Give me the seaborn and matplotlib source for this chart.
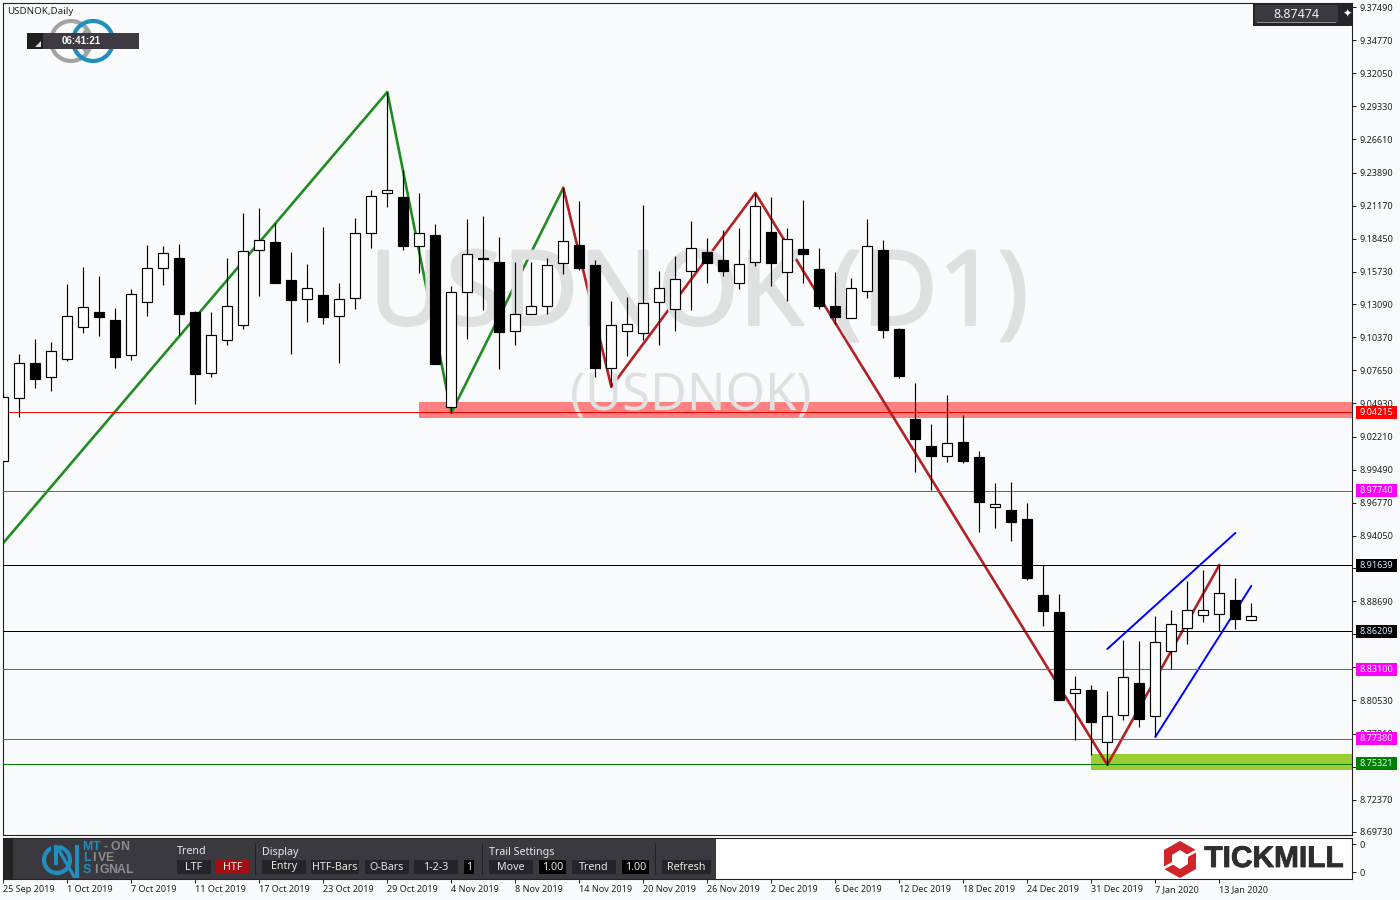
import numpy as np
import pandas as pd
import matplotlib
matplotlib.use('Agg')
import matplotlib.pyplot as plt
import matplotlib.transforms as mtransforms
import matplotlib.patheffects as pe
from matplotlib.patches import Rectangle, Polygon, Circle
import seaborn as sns

# daily USDNOK candles
opens = [9.0022,9.0539,9.0826,9.0711,9.0859,9.1121,9.1244,9.1179,9.0892,9.1326,
         9.1606,9.1688,9.1244,9.0744,9.1015,9.1138,9.1753,9.1819,9.1508,9.1351,
         9.1385,9.1212,9.1359,9.1893,9.2221,9.2188,9.1786,9.1876,9.0465,9.1410,
         9.1688,9.1655,9.1089,9.1228,9.1293,9.1647,9.1795,9.1631,9.0785,9.1089,
         9.1072,9.1326,9.1269,9.1582,9.1737,9.1672,9.1483,9.1655,9.1901,9.1573,
         9.1762,9.1598,9.1293,9.1195,9.1418,9.1753,9.1105,9.0367,9.0145,9.0063,
         9.0178,9.0055,8.9645,8.9621,8.9547,8.8920,8.8780,8.8115,8.8139,8.7713,
         8.7934,8.8197,8.7926,8.8460,8.8649,8.8756,8.8764,8.8879,8.8715]
highs = [9.0580,9.0900,9.1023,9.0998,9.1475,9.1614,9.1541,9.1277,9.1434,9.1795,
         9.1786,9.1803,9.1252,9.1244,9.1688,9.2057,9.2098,9.1975,9.1737,9.1639,
         9.1942,9.1483,9.2016,9.2246,9.3051,9.2410,9.2221,9.1967,9.1459,9.2007,
         9.2032,9.1860,9.1655,9.1655,9.1688,9.2263,9.2155,9.1672,9.1334,9.1369,
         9.2123,9.1582,9.1704,9.1991,9.1852,9.1917,9.1934,9.2221,9.2188,9.1934,
         9.2164,9.1770,9.1573,9.1524,9.2007,9.1836,9.1113,9.0662,9.0326,9.0564,
         9.0400,9.0104,8.9842,8.9850,8.9678,8.9166,8.8928,8.8254,8.8180,8.8131,
         8.8550,8.8542,8.8748,8.8797,8.9034,8.9125,8.9166,8.9059,8.8854]
lows = [9.0022,9.0383,9.0621,9.0597,9.0843,9.1072,9.1048,9.0785,9.0851,9.1212,
        9.1467,9.1056,9.0490,9.0711,9.0974,9.1105,9.1377,9.1483,9.0900,9.1162,
        9.1146,9.0826,9.1269,9.1770,9.2106,9.1753,9.1565,9.0818,9.0416,9.1023,
        9.1261,9.0777,9.0974,9.1228,9.1228,9.1557,9.1590,9.0711,9.0630,9.0884,
        9.1015,9.0974,9.1089,9.1261,9.1483,9.1541,9.1434,9.1623,9.1459,9.1334,
        9.1483,9.1269,9.1146,9.1195,9.1359,9.1031,9.0703,8.9932,8.9785,9.0014,
        9.0006,8.9440,8.9473,8.9366,8.9042,8.8665,8.8057,8.7729,8.7606,8.7524,
        8.7893,8.7836,8.7754,8.8312,8.8517,8.8698,8.8624,8.8641,8.8715]
closes = [9.0547,9.0826,9.0695,9.0925,9.1212,9.1285,9.1203,9.0876,9.1393,9.1606,
          9.1729,9.1228,9.0736,9.1056,9.1293,9.1745,9.1836,9.1483,9.1343,9.1442,
          9.1203,9.1351,9.1893,9.2197,9.2246,9.1786,9.1893,9.0818,9.1410,9.1721,
          9.1680,9.1080,9.1228,9.1293,9.1631,9.1827,9.1606,9.0785,9.1138,9.1146,
          9.1318,9.1442,9.1516,9.1770,9.1647,9.1582,9.1639,9.2114,9.1647,9.1844,
          9.1721,9.1293,9.1203,9.1442,9.1786,9.1097,9.0720,9.0203,9.0063,9.0170,
          9.0022,8.9687,8.9670,8.9522,8.9059,8.8789,8.8057,8.8147,8.7877,8.7926,
          8.8246,8.7901,8.8534,8.8682,8.8797,8.8797,8.8936,8.8723,8.8748]

# zigzags and channel, as bar number / price
green_bars = [0, 24, 28, 35]
green_prices = [8.9347, 9.3051, 9.0416, 9.2263]
red_bars = [35, 38, 47, 69, 76]
red_prices = [9.2263, 9.0630, 9.2221, 8.7524, 8.9166]
blue_up_bars = [69, 77]
blue_up_prices = [8.8476, 8.9429]
blue_low_bars = [72, 78]
blue_low_prices = [8.7754, 8.8994]

# horizontal levels
level_values = [9.04215, 8.97740, 8.91639, 8.86209, 8.83100, 8.77380, 8.75321]
level_colors = ['#ff0000', '#ff00ff', '#000000', '#000000', '#ff00ff', '#ff00ff', '#008000']
level_text = ['white', 'white', '#cfe8ff', '#cfe8ff', 'white', 'white', '#d8fff0']

y_ticks = [9.37490,9.34770,9.32050,9.29330,9.26610,9.23890,9.21170,9.18450,9.15730,
           9.13090,9.10370,9.07650,9.04930,9.02210,8.99490,8.96770,8.94050,8.91410,
           8.88690,8.85970,8.83250,8.80530,8.77810,8.75090,8.72370,8.69730]
date_ticks = [0,4,8,12,16,20,24,28,32,36,40,44,48,52,56,60,64,68,72,76]
date_labels = ['25 Sep 2019','1 Oct 2019','7 Oct 2019','11 Oct 2019','17 Oct 2019',
               '23 Oct 2019','29 Oct 2019','4 Nov 2019','8 Nov 2019','14 Nov 2019',
               '20 Nov 2019','26 Nov 2019','2 Dec 2019','6 Dec 2019','12 Dec 2019',
               '18 Dec 2019','24 Dec 2019','31 Dec 2019','7 Jan 2020','13 Jan 2020']

BG = '#f9fbfd'
PANEL = '#3b3940'
BTN = '#252429'
TEAL = '#1f8fbf'

sns.set_theme(style='ticks')
plt.rcParams['font.family'] = ['Noto Sans', 'DejaVu Sans']

fig = plt.figure(figsize=(14, 9), dpi=100, facecolor=BG)
ax = fig.add_axes([2.5/1400, 65/900, 1349.5/1400, 832.5/900], facecolor=BG)
ax2 = fig.add_axes([2.5/1400, 21/900, 1349.5/1400, 41/900], facecolor='white')
px = mtransforms.Affine2D().scale(1, -1).translate(0, 900)

xmin = -0.05
xmax = 84.29
ax.set_xlim(xmin, xmax)
ax.set_ylim(8.6948, 9.3786)
ax2.set_xlim(xmin, xmax)
ax2.set_ylim(0, 1)

df = pd.DataFrame({'bar': range(len(opens)), 'open': opens, 'high': highs, 'low': lows, 'close': closes})
df['top'] = df[['open', 'close']].max(axis=1)
df['bottom'] = df[['open', 'close']].min(axis=1)
df['color'] = np.where(df['close'] >= df['open'], 'white', 'black')

# zones
ax.fill_between([26, xmax], 9.0377, 9.0505, color='#ff8080', lw=0, zorder=1)
ax.fill_between([68, xmax], 8.7486, 8.7614, color='#9acd32', lw=0, zorder=1)

# zigzag + channel
for xs, ys, col, lw in [(green_bars, green_prices, '#228b22', 1.9),
                        (red_bars, red_prices, '#b22222', 1.9),
                        (blue_up_bars, blue_up_prices, '#0000ff', 1.4),
                        (blue_low_bars, blue_low_prices, '#0000ff', 1.4)]:
    sns.lineplot(x=xs, y=ys, color=col, lw=lw, sort=False, estimator=None, ax=ax, zorder=2)

# watermark goes over the lines but under the candles
ax.text(699, 325, 'USDNOK (D1)', transform=px, color='#dfe1e1', fontsize=75, ha='center',
        va='baseline', zorder=3, clip_on=True,
        path_effects=[pe.withStroke(linewidth=1.5, foreground='#dfe1e1')])
ax.text(691, 410, '(USDNOK)', transform=px, color='#dfe1e1', fontsize=36.5, ha='center',
        va='baseline', zorder=3, clip_on=True)

for val, col in zip(level_values, level_colors):
    ax.axhline(val, color=col, lw=0.72, antialiased=False, zorder=3.5)

ax.vlines(df['bar'], df['low'], df['high'], color='black', lw=0.85, zorder=4)
ax.bar(df['bar'], df['top'] - df['bottom'], bottom=df['bottom'], width=0.62,
       color=df['color'], edgecolor='black', lw=0.85, zorder=5)

# axes, ticks
ax.yaxis.tick_right()
ax.set_yticks(y_ticks)
ax.set_yticklabels(['%.5f' % v for v in y_ticks], fontsize=6.5, color='#222222')
ax.tick_params(axis='y', length=3, width=0.7, pad=2.5, color='#222222')
ax.set_xticks([])
ax.set_xlabel('')
ax.set_ylabel('')
ax2.yaxis.tick_right()
ax2.set_yticks([0.17, 0.85])
ax2.set_yticklabels(['0', '0'], fontsize=6.5, color='#222222')
ax2.tick_params(axis='y', length=3, width=0.7, pad=2.5, color='#222222')
ax2.set_xticks(date_ticks)
ax2.set_xticklabels(date_labels, fontsize=6.5, color='#222222', ha='left')
ax2.tick_params(axis='x', length=3, width=0.7, pad=1.2, color='#222222')
for a in (ax, ax2):
    for s in a.spines.values():
        s.set_visible(True)
        s.set_linewidth(0.8)
        s.set_color('#222222')

# price tags on the axis
tag_h = 13 / 1217.5
tag_tf = mtransforms.blended_transform_factory(px, ax.transData)
for val, col, tcol in zip(level_values, level_colors, level_text):
    ax.add_patch(Rectangle((1356, val - tag_h / 2), 41, tag_h, transform=tag_tf, fc=col, ec='none',
                           clip_on=False, zorder=10))
    ax.text(1376.5, val, '%.5f' % val, transform=tag_tf, fontsize=6.5, color=tcol, va='center', ha='center',
            clip_on=False, zorder=11)


def box(x0, y0, x1, y1, col, target=ax2, z=6):
    target.add_patch(Rectangle((x0, y0), x1 - x0, y1 - y0, transform=px, fc=col, ec='none',
                               clip_on=False, zorder=z))


def label(x, y, s, col='#e8e8e8', size=7.7, ha='center', weight='normal', target=ax2, z=7, fam=None):
    target.text(x, y, s, transform=px, color=col, fontsize=size, ha=ha, va='center',
                fontweight=weight, clip_on=False, zorder=z, family=fam)


# chart title, timer, price box
label(7, 11, 'USDNOK,Daily', col='#222222', size=7, ha='left', target=ax)
ax.add_patch(Circle((71, 41), 20, transform=px, fc='none', ec='#a3a3a3', lw=3, zorder=6, clip_on=False))
ax.add_patch(Circle((93, 41), 20, transform=px, fc='none', ec=TEAL, lw=3, zorder=6.1, clip_on=False))
ax.add_patch(Polygon([(82, 33), (90, 33), (86, 27)], transform=px, fc='#a3a3a3', ec='none', zorder=6.2))
ax.add_patch(Polygon([(82, 49), (90, 49), (86, 55)], transform=px, fc='#a3a3a3', ec='none', zorder=6.2))
box(27, 33, 139, 49, '#3d3a42', target=ax, z=6.5)
box(27, 33, 43, 49, '#1e1e1e', target=ax, z=6.6)
ax.add_patch(Polygon([(35, 47), (41, 47), (41, 41)], transform=px, fc='#dddddd', ec='none', zorder=6.7))
label(81, 41, '06:41:21', col='white', size=7, weight='bold', target=ax, fam='Liberation Sans')

box(1253, 3, 1352, 26, '#25232a', target=ax, z=9)
box(1255, 5, 1338, 23, PANEL, target=ax, z=9.1)
box(1257, 22, 1336, 23, '#8a8a8a', target=ax, z=9.2)
label(1296, 14, '8.87474', col='#f0f0f0', size=9, target=ax, z=9.3)
label(1347, 14, '\u2726', col='white', size=8, target=ax, z=9.3, fam='DejaVu Sans')

# toolbar in the lower panel
box(3, 839, 716, 879, PANEL, z=5)
box(3, 839, 13, 879, '#222222', z=5.5)
for sx in [255, 482, 655]:
    box(sx, 843, sx + 1, 875, '#222126', z=5.5)
label(177, 852, 'Trend', ha='left')
label(262, 852, 'Display', ha='left')
label(489, 852, 'Trail Settings', ha='left')

buttons = [(177, 211, 'LTF', BTN), (216, 250, 'HTF', '#a01010'), (262, 306, 'Entry', BTN),
           (311, 359, 'HTF-Bars', BTN), (365, 409, 'O-Bars', BTN), (414, 458, '1-2-3', BTN),
           (464, 474, '1', '#000000'), (489, 533, 'Move', BTN), (539, 566, '1.00', '#000000'),
           (572, 616, 'Trend', BTN), (622, 649, '1.00', '#000000'), (662, 711, 'Refresh', BTN)]
for x0, x1, s, col in buttons:
    box(x0, 860, x1, 874, col)
    label((x0 + x1) / 2, 867, s)

# MT-ON logo, the letters sit in even cells
ax2.add_patch(Circle((57, 860), 13, transform=px, fc='none', ec=TEAL, lw=3, zorder=6, clip_on=False))
ax2.add_patch(Polygon([(51, 843), (59, 843), (59, 866), (51, 866)], transform=px, fc=PANEL, ec='none', zorder=6.1, clip_on=False))
ax2.add_patch(Polygon([(54, 845), (58, 845), (75, 875), (75, 845), (79, 845), (79, 878), (73, 878), (58, 852), (58, 865), (54, 865)],
                      transform=px, fc=TEAL, ec='none', zorder=6.2, clip_on=False))
for y, word, n_teal, step in [(847, 'MT-ON', 2, 9.2), (858, 'LIVE', 1, 7.5), (870, 'SIGNAL', 1, 8.4)]:
    for i, ch in enumerate(word):
        col = TEAL if i < n_teal else '#8c8c8c'
        label(83 + step * (i + 0.5), y, ch, col=col, size=8.8, weight='bold', fam='Liberation Sans')

# Tickmill logo
ax2.add_patch(Polygon([(1180, 841), (1196, 850), (1196, 869), (1180, 878), (1164, 869), (1164, 850)],
                      transform=px, fc='#d0242b', ec='none', zorder=6, clip_on=False))
ax2.add_patch(Polygon([(1180, 850), (1188, 855), (1188, 864), (1180, 869), (1172, 864), (1172, 855)],
                      transform=px, fc='white', ec='none', zorder=6.1, clip_on=False))
ax2.add_patch(Polygon([(1184, 856), (1197, 849), (1197, 852), (1186, 858)], transform=px, fc='white', ec='none', zorder=6.2, clip_on=False))
ax2.add_patch(Polygon([(1176, 863), (1163, 870), (1163, 867), (1174, 861)], transform=px, fc='white', ec='none', zorder=6.2, clip_on=False))
ax2.text(1274, 859, 'TICKMILL', transform=px, color='#2e2e2e', fontsize=21.5, fontweight='bold',
         ha='center', va='center', zorder=7, clip_on=False, family='Liberation Sans',
         path_effects=[pe.withStroke(linewidth=0.6, foreground='#2e2e2e')])

fig.savefig('out.png', dpi=100, facecolor=BG)
